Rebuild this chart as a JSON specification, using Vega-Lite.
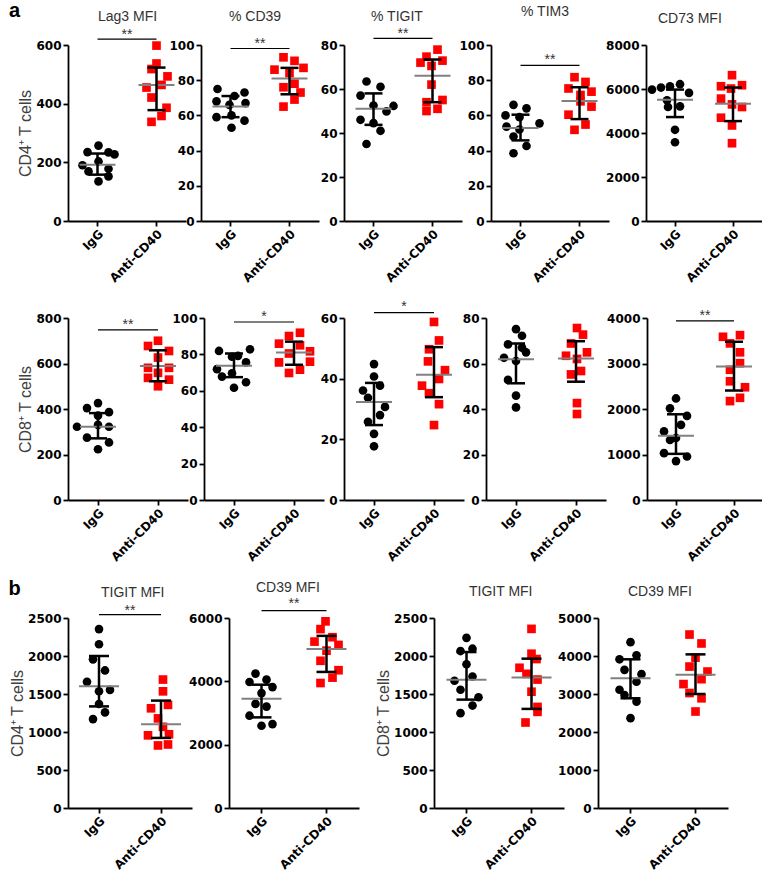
{
"$schema": "https://vega.github.io/schema/vega-lite/v6.json",
"padding": {"left": 8, "top": 1, "right": 0, "bottom": 0},
"background": "white",
"config": {
  "view": {"stroke": null},
  "font": "Liberation Sans",
  "axis": {"labelFont": "DejaVu Sans", "labelFontWeight": "bold", "labelFontSize": 12, "labelColor": "#000000", "domainColor": "#000000", "domainWidth": 1.8, "tickColor": "#000000", "tickWidth": 1.8, "tickSize": 5, "labelPadding": 2, "titleFont": "Liberation Sans", "titleFontSize": 16, "titleFontWeight": "normal", "titleColor": "#404040", "titlePadding": 2, "grid": false, "labelOverlap": false},
  "axisY": {"format": "d", "labelFlush": false, "tickCount": 20},
  "axisX": {"labelAngle": -45, "labelFontSize": 12},
  "title": {"font": "Liberation Sans", "fontSize": 14, "fontWeight": "normal", "color": "#333333", "anchor": "start", "frame": "group"}
},
"datasets": {
"pts": [
{"panel":"a1","group":"IgG","value":257,"dx":1},{"panel":"a1","group":"IgG","value":235,"dx":-10},{"panel":"a1","group":"IgG","value":234,"dx":11},{"panel":"a1","group":"IgG","value":227,"dx":17},{"panel":"a1","group":"IgG","value":190,"dx":-15},{"panel":"a1","group":"IgG","value":203,"dx":1},{"panel":"a1","group":"IgG","value":178,"dx":11},{"panel":"a1","group":"IgG","value":169,"dx":-9},{"panel":"a1","group":"IgG","value":152,"dx":11},{"panel":"a1","group":"IgG","value":135,"dx":1},
{"panel":"a1","group":"Anti-CD40","value":598,"dx":0},{"panel":"a1","group":"Anti-CD40","value":537,"dx":0},{"panel":"a1","group":"Anti-CD40","value":518,"dx":-5},{"panel":"a1","group":"Anti-CD40","value":493,"dx":11},{"panel":"a1","group":"Anti-CD40","value":455,"dx":-10},{"panel":"a1","group":"Anti-CD40","value":464,"dx":5},{"panel":"a1","group":"Anti-CD40","value":421,"dx":-5},{"panel":"a1","group":"Anti-CD40","value":386,"dx":10},{"panel":"a1","group":"Anti-CD40","value":358,"dx":5},{"panel":"a1","group":"Anti-CD40","value":338,"dx":-5},
{"panel":"a2","group":"IgG","value":75,"dx":-13},{"panel":"a2","group":"IgG","value":71,"dx":4},{"panel":"a2","group":"IgG","value":73,"dx":14},{"panel":"a2","group":"IgG","value":68,"dx":-14},{"panel":"a2","group":"IgG","value":66,"dx":-1},{"panel":"a2","group":"IgG","value":67,"dx":15},{"panel":"a2","group":"IgG","value":59,"dx":-14},{"panel":"a2","group":"IgG","value":60,"dx":1},{"panel":"a2","group":"IgG","value":57,"dx":14},{"panel":"a2","group":"IgG","value":53,"dx":1},
{"panel":"a2","group":"Anti-CD40","value":93,"dx":-6},{"panel":"a2","group":"Anti-CD40","value":91,"dx":5},{"panel":"a2","group":"Anti-CD40","value":86,"dx":-15},{"panel":"a2","group":"Anti-CD40","value":87,"dx":14},{"panel":"a2","group":"Anti-CD40","value":84,"dx":0},{"panel":"a2","group":"Anti-CD40","value":76,"dx":-6},{"panel":"a2","group":"Anti-CD40","value":78,"dx":5},{"panel":"a2","group":"Anti-CD40","value":73,"dx":11},{"panel":"a2","group":"Anti-CD40","value":69,"dx":5},{"panel":"a2","group":"Anti-CD40","value":65,"dx":-6},
{"panel":"a3","group":"IgG","value":63.4,"dx":-7},{"panel":"a3","group":"IgG","value":61,"dx":7},{"panel":"a3","group":"IgG","value":57,"dx":-13},{"panel":"a3","group":"IgG","value":52.5,"dx":0},{"panel":"a3","group":"IgG","value":52.3,"dx":20},{"panel":"a3","group":"IgG","value":49.8,"dx":13},{"panel":"a3","group":"IgG","value":46,"dx":-13},{"panel":"a3","group":"IgG","value":44.5,"dx":0},{"panel":"a3","group":"IgG","value":41,"dx":7},{"panel":"a3","group":"IgG","value":35,"dx":-7},
{"panel":"a3","group":"Anti-CD40","value":77.9,"dx":5},{"panel":"a3","group":"Anti-CD40","value":74.7,"dx":-6},{"panel":"a3","group":"Anti-CD40","value":72.9,"dx":10},{"panel":"a3","group":"Anti-CD40","value":72,"dx":-12},{"panel":"a3","group":"Anti-CD40","value":70.5,"dx":-1},{"panel":"a3","group":"Anti-CD40","value":62,"dx":-1},{"panel":"a3","group":"Anti-CD40","value":55,"dx":10},{"panel":"a3","group":"Anti-CD40","value":54,"dx":-6},{"panel":"a3","group":"Anti-CD40","value":51,"dx":5},{"panel":"a3","group":"Anti-CD40","value":50,"dx":-6},
{"panel":"a4","group":"IgG","value":66,"dx":-7},{"panel":"a4","group":"IgG","value":64,"dx":6},{"panel":"a4","group":"IgG","value":60,"dx":-15},{"panel":"a4","group":"IgG","value":59,"dx":-1},{"panel":"a4","group":"IgG","value":55.5,"dx":19},{"panel":"a4","group":"IgG","value":53.6,"dx":-14},{"panel":"a4","group":"IgG","value":52,"dx":-1},{"panel":"a4","group":"IgG","value":48,"dx":-7},{"panel":"a4","group":"IgG","value":42.6,"dx":6},{"panel":"a4","group":"IgG","value":38.5,"dx":-7},
{"panel":"a4","group":"Anti-CD40","value":81.7,"dx":-5},{"panel":"a4","group":"Anti-CD40","value":79,"dx":6},{"panel":"a4","group":"Anti-CD40","value":75.3,"dx":-11},{"panel":"a4","group":"Anti-CD40","value":73.5,"dx":12},{"panel":"a4","group":"Anti-CD40","value":71.6,"dx":1},{"panel":"a4","group":"Anti-CD40","value":68,"dx":1},{"panel":"a4","group":"Anti-CD40","value":65,"dx":12},{"panel":"a4","group":"Anti-CD40","value":60.4,"dx":-11},{"panel":"a4","group":"Anti-CD40","value":54.8,"dx":6},{"panel":"a4","group":"Anti-CD40","value":51.8,"dx":-5},
{"panel":"a5","group":"IgG","value":5974,"dx":-23},{"panel":"a5","group":"IgG","value":6066,"dx":-14},{"panel":"a5","group":"IgG","value":6126,"dx":-5},{"panel":"a5","group":"IgG","value":6218,"dx":5},{"panel":"a5","group":"IgG","value":5822,"dx":14},{"panel":"a5","group":"IgG","value":5486,"dx":-8},{"panel":"a5","group":"IgG","value":5182,"dx":-7},{"panel":"a5","group":"IgG","value":5212,"dx":5},{"panel":"a5","group":"IgG","value":4145,"dx":0},{"panel":"a5","group":"IgG","value":3581,"dx":0},
{"panel":"a5","group":"Anti-CD40","value":6629,"dx":-1},{"panel":"a5","group":"Anti-CD40","value":6172,"dx":9},{"panel":"a5","group":"Anti-CD40","value":6126,"dx":-12},{"panel":"a5","group":"Anti-CD40","value":6020,"dx":-2},{"panel":"a5","group":"Anti-CD40","value":5563,"dx":-12},{"panel":"a5","group":"Anti-CD40","value":5300,"dx":-1},{"panel":"a5","group":"Anti-CD40","value":5182,"dx":9},{"panel":"a5","group":"Anti-CD40","value":4694,"dx":-12},{"panel":"a5","group":"Anti-CD40","value":4343,"dx":-1},{"panel":"a5","group":"Anti-CD40","value":3536,"dx":-1},
{"panel":"b1","group":"IgG","value":426,"dx":0},{"panel":"b1","group":"IgG","value":404,"dx":-11},{"panel":"b1","group":"IgG","value":386,"dx":11},{"panel":"b1","group":"IgG","value":371,"dx":0},{"panel":"b1","group":"IgG","value":322,"dx":-21},{"panel":"b1","group":"IgG","value":330,"dx":0},{"panel":"b1","group":"IgG","value":322,"dx":11},{"panel":"b1","group":"IgG","value":274,"dx":-11},{"panel":"b1","group":"IgG","value":253,"dx":11},{"panel":"b1","group":"IgG","value":223,"dx":0},
{"panel":"b1","group":"Anti-CD40","value":700,"dx":0},{"panel":"b1","group":"Anti-CD40","value":677,"dx":-10},{"panel":"b1","group":"Anti-CD40","value":655,"dx":11},{"panel":"b1","group":"Anti-CD40","value":626,"dx":0},{"panel":"b1","group":"Anti-CD40","value":581,"dx":-10},{"panel":"b1","group":"Anti-CD40","value":581,"dx":11},{"panel":"b1","group":"Anti-CD40","value":559,"dx":0},{"panel":"b1","group":"Anti-CD40","value":537,"dx":-10},{"panel":"b1","group":"Anti-CD40","value":529,"dx":11},{"panel":"b1","group":"Anti-CD40","value":500,"dx":0},
{"panel":"b2","group":"IgG","value":81.9,"dx":-15},{"panel":"b2","group":"IgG","value":82.8,"dx":16},{"panel":"b2","group":"IgG","value":78.7,"dx":-2},{"panel":"b2","group":"IgG","value":79.2,"dx":4},{"panel":"b2","group":"IgG","value":75.6,"dx":12},{"panel":"b2","group":"IgG","value":71.9,"dx":-17},{"panel":"b2","group":"IgG","value":69.6,"dx":-2},{"panel":"b2","group":"IgG","value":67.8,"dx":-12},{"panel":"b2","group":"IgG","value":64.7,"dx":12},{"panel":"b2","group":"IgG","value":61.7,"dx":0},
{"panel":"b2","group":"Anti-CD40","value":91.9,"dx":6},{"panel":"b2","group":"Anti-CD40","value":90.1,"dx":-5},{"panel":"b2","group":"Anti-CD40","value":85.9,"dx":-15},{"panel":"b2","group":"Anti-CD40","value":85,"dx":6},{"panel":"b2","group":"Anti-CD40","value":81.7,"dx":16},{"panel":"b2","group":"Anti-CD40","value":80.5,"dx":-5},{"panel":"b2","group":"Anti-CD40","value":75.6,"dx":-15},{"panel":"b2","group":"Anti-CD40","value":76,"dx":16},{"panel":"b2","group":"Anti-CD40","value":71.6,"dx":6},{"panel":"b2","group":"Anti-CD40","value":69.8,"dx":-5},
{"panel":"b3","group":"IgG","value":44.8,"dx":0},{"panel":"b3","group":"IgG","value":40.7,"dx":0},{"panel":"b3","group":"IgG","value":37.7,"dx":6},{"panel":"b3","group":"IgG","value":36.1,"dx":-11},{"panel":"b3","group":"IgG","value":33.7,"dx":-6},{"panel":"b3","group":"IgG","value":30.7,"dx":11},{"panel":"b3","group":"IgG","value":28,"dx":6},{"panel":"b3","group":"IgG","value":25.8,"dx":-6},{"panel":"b3","group":"IgG","value":21.8,"dx":0},{"panel":"b3","group":"IgG","value":17.7,"dx":0},
{"panel":"b3","group":"Anti-CD40","value":58.7,"dx":0},{"panel":"b3","group":"Anti-CD40","value":52.6,"dx":5},{"panel":"b3","group":"Anti-CD40","value":49.7,"dx":-5},{"panel":"b3","group":"Anti-CD40","value":45.7,"dx":-6},{"panel":"b3","group":"Anti-CD40","value":42.8,"dx":11},{"panel":"b3","group":"Anti-CD40","value":39.9,"dx":5},{"panel":"b3","group":"Anti-CD40","value":37.7,"dx":-12},{"panel":"b3","group":"Anti-CD40","value":35.2,"dx":-5},{"panel":"b3","group":"Anti-CD40","value":31.6,"dx":5},{"panel":"b3","group":"Anti-CD40","value":24.7,"dx":0},
{"panel":"b4","group":"IgG","value":75.1,"dx":0},{"panel":"b4","group":"IgG","value":72.2,"dx":6},{"panel":"b4","group":"IgG","value":68.4,"dx":-8},{"panel":"b4","group":"IgG","value":67,"dx":6},{"panel":"b4","group":"IgG","value":64.9,"dx":10},{"panel":"b4","group":"IgG","value":62.5,"dx":-12},{"panel":"b4","group":"IgG","value":61.1,"dx":0},{"panel":"b4","group":"IgG","value":52.8,"dx":-8},{"panel":"b4","group":"IgG","value":45.9,"dx":0},{"panel":"b4","group":"IgG","value":40.7,"dx":0},
{"panel":"b4","group":"Anti-CD40","value":75.6,"dx":1},{"panel":"b4","group":"Anti-CD40","value":72.7,"dx":7},{"panel":"b4","group":"Anti-CD40","value":68.8,"dx":-5},{"panel":"b4","group":"Anti-CD40","value":64.9,"dx":11},{"panel":"b4","group":"Anti-CD40","value":63.4,"dx":-10},{"panel":"b4","group":"Anti-CD40","value":62,"dx":1},{"panel":"b4","group":"Anti-CD40","value":56.7,"dx":5},{"panel":"b4","group":"Anti-CD40","value":55.2,"dx":-5},{"panel":"b4","group":"Anti-CD40","value":42.6,"dx":1},{"panel":"b4","group":"Anti-CD40","value":37.8,"dx":1},
{"panel":"b5","group":"IgG","value":2232,"dx":0},{"panel":"b5","group":"IgG","value":2014,"dx":-6},{"panel":"b5","group":"IgG","value":1848,"dx":11},{"panel":"b5","group":"IgG","value":1652,"dx":5},{"panel":"b5","group":"IgG","value":1507,"dx":-12},{"panel":"b5","group":"IgG","value":1362,"dx":0},{"panel":"b5","group":"IgG","value":1319,"dx":-6},{"panel":"b5","group":"IgG","value":1029,"dx":-12},{"panel":"b5","group":"IgG","value":956,"dx":11},{"panel":"b5","group":"IgG","value":855,"dx":0},
{"panel":"b5","group":"Anti-CD40","value":3587,"dx":-11},{"panel":"b5","group":"Anti-CD40","value":3623,"dx":6},{"panel":"b5","group":"Anti-CD40","value":3442,"dx":-4},{"panel":"b5","group":"Anti-CD40","value":3246,"dx":6},{"panel":"b5","group":"Anti-CD40","value":3007,"dx":6},{"panel":"b5","group":"Anti-CD40","value":2862,"dx":-4},{"panel":"b5","group":"Anti-CD40","value":2609,"dx":-4},{"panel":"b5","group":"Anti-CD40","value":2478,"dx":11},{"panel":"b5","group":"Anti-CD40","value":2246,"dx":6},{"panel":"b5","group":"Anti-CD40","value":2174,"dx":-4},
{"panel":"c1","group":"IgG","value":2354,"dx":0},{"panel":"c1","group":"IgG","value":2155,"dx":0},{"panel":"c1","group":"IgG","value":1956,"dx":-6},{"panel":"c1","group":"IgG","value":1810,"dx":6},{"panel":"c1","group":"IgG","value":1660,"dx":-12},{"panel":"c1","group":"IgG","value":1536,"dx":0},{"panel":"c1","group":"IgG","value":1554,"dx":11},{"panel":"c1","group":"IgG","value":1369,"dx":0},{"panel":"c1","group":"IgG","value":1258,"dx":6},{"panel":"c1","group":"IgG","value":1170,"dx":-6},
{"panel":"c1","group":"Anti-CD40","value":1690,"dx":2},{"panel":"c1","group":"Anti-CD40","value":1535,"dx":2},{"panel":"c1","group":"Anti-CD40","value":1312,"dx":-10},{"panel":"c1","group":"Anti-CD40","value":1357,"dx":7},{"panel":"c1","group":"Anti-CD40","value":1179,"dx":-3},{"panel":"c1","group":"Anti-CD40","value":1068,"dx":2},{"panel":"c1","group":"Anti-CD40","value":956,"dx":-13},{"panel":"c1","group":"Anti-CD40","value":970,"dx":8},{"panel":"c1","group":"Anti-CD40","value":823,"dx":-3},{"panel":"c1","group":"Anti-CD40","value":836,"dx":7},
{"panel":"c2","group":"IgG","value":4245,"dx":-6},{"panel":"c2","group":"IgG","value":4053,"dx":5},{"panel":"c2","group":"IgG","value":3979,"dx":-12},{"panel":"c2","group":"IgG","value":3819,"dx":11},{"panel":"c2","group":"IgG","value":3628,"dx":0},{"panel":"c2","group":"IgG","value":3287,"dx":-6},{"panel":"c2","group":"IgG","value":3202,"dx":5},{"panel":"c2","group":"IgG","value":2915,"dx":-12},{"panel":"c2","group":"IgG","value":2596,"dx":0},{"panel":"c2","group":"IgG","value":2649,"dx":11},
{"panel":"c2","group":"Anti-CD40","value":5894,"dx":-1},{"panel":"c2","group":"Anti-CD40","value":5649,"dx":-6},{"panel":"c2","group":"Anti-CD40","value":5255,"dx":-12},{"panel":"c2","group":"Anti-CD40","value":5393,"dx":6},{"panel":"c2","group":"Anti-CD40","value":5149,"dx":12},{"panel":"c2","group":"Anti-CD40","value":4968,"dx":0},{"panel":"c2","group":"Anti-CD40","value":4649,"dx":-6},{"panel":"c2","group":"Anti-CD40","value":4351,"dx":12},{"panel":"c2","group":"Anti-CD40","value":4117,"dx":6},{"panel":"c2","group":"Anti-CD40","value":3947,"dx":-6},
{"panel":"c3","group":"IgG","value":2239,"dx":0},{"panel":"c3","group":"IgG","value":2065,"dx":-6},{"panel":"c3","group":"IgG","value":2096,"dx":6},{"panel":"c3","group":"IgG","value":1891,"dx":0},{"panel":"c3","group":"IgG","value":1730,"dx":6},{"panel":"c3","group":"IgG","value":1674,"dx":-12},{"panel":"c3","group":"IgG","value":1556,"dx":-6},{"panel":"c3","group":"IgG","value":1457,"dx":12},{"panel":"c3","group":"IgG","value":1348,"dx":6},{"panel":"c3","group":"IgG","value":1248,"dx":-6},
{"panel":"c3","group":"Anti-CD40","value":2357,"dx":0},{"panel":"c3","group":"Anti-CD40","value":2030,"dx":0},{"panel":"c3","group":"Anti-CD40","value":1960,"dx":5},{"panel":"c3","group":"Anti-CD40","value":1845,"dx":-12},{"panel":"c3","group":"Anti-CD40","value":1765,"dx":-5},{"panel":"c3","group":"Anti-CD40","value":1690,"dx":6},{"panel":"c3","group":"Anti-CD40","value":1530,"dx":0},{"panel":"c3","group":"Anti-CD40","value":1330,"dx":6},{"panel":"c3","group":"Anti-CD40","value":1265,"dx":6},{"panel":"c3","group":"Anti-CD40","value":1125,"dx":-6},
{"panel":"c4","group":"IgG","value":4365,"dx":0},{"panel":"c4","group":"IgG","value":3913,"dx":-11},{"panel":"c4","group":"IgG","value":4017,"dx":6},{"panel":"c4","group":"IgG","value":3635,"dx":-6},{"panel":"c4","group":"IgG","value":3522,"dx":11},{"panel":"c4","group":"IgG","value":3322,"dx":6},{"panel":"c4","group":"IgG","value":3113,"dx":-11},{"panel":"c4","group":"IgG","value":2974,"dx":-6},{"panel":"c4","group":"IgG","value":2800,"dx":6},{"panel":"c4","group":"IgG","value":2365,"dx":0},
{"panel":"c4","group":"Anti-CD40","value":4565,"dx":-6},{"panel":"c4","group":"Anti-CD40","value":4330,"dx":6},{"panel":"c4","group":"Anti-CD40","value":3957,"dx":0},{"panel":"c4","group":"Anti-CD40","value":3722,"dx":-6},{"panel":"c4","group":"Anti-CD40","value":3591,"dx":12},{"panel":"c4","group":"Anti-CD40","value":3391,"dx":6},{"panel":"c4","group":"Anti-CD40","value":3261,"dx":-12},{"panel":"c4","group":"Anti-CD40","value":3026,"dx":-6},{"panel":"c4","group":"Anti-CD40","value":2887,"dx":6},{"panel":"c4","group":"Anti-CD40","value":2539,"dx":0}
],
"sum": [
{"panel":"a1","group":"IgG","median":192,"q1":158,"q3":230},{"panel":"a1","group":"Anti-CD40","median":464,"q1":378,"q3":523},
{"panel":"a2","group":"IgG","median":65,"q1":59,"q3":71},{"panel":"a2","group":"Anti-CD40","median":81,"q1":72,"q3":87},
{"panel":"a3","group":"IgG","median":51,"q1":43.7,"q3":58},{"panel":"a3","group":"Anti-CD40","median":66,"q1":54,"q3":73.4},
{"panel":"a4","group":"IgG","median":52.9,"q1":45.8,"q3":60.4},{"panel":"a4","group":"Anti-CD40","median":68.2,"q1":57.9,"q3":76},
{"panel":"a5","group":"IgG","median":5517,"q1":4724,"q3":5974},{"panel":"a5","group":"Anti-CD40","median":5334,"q1":4541,"q3":6066},
{"panel":"b1","group":"IgG","median":322,"q1":271,"q3":382},{"panel":"b1","group":"Anti-CD40","median":589,"q1":522,"q3":658},
{"panel":"b2","group":"IgG","median":73.8,"q1":67.5,"q3":80.5},{"panel":"b2","group":"Anti-CD40","median":81,"q1":74.3,"q3":87},
{"panel":"b3","group":"IgG","median":32.3,"q1":24.7,"q3":38.6},{"panel":"b3","group":"Anti-CD40","median":41.3,"q1":33.9,"q3":50.4},
{"panel":"b4","group":"IgG","median":61.9,"q1":51.3,"q3":68.8},{"panel":"b4","group":"Anti-CD40","median":62.2,"q1":52,"q3":69.8},
{"panel":"b5","group":"IgG","median":1413,"q1":1014,"q3":1884},{"panel":"b5","group":"Anti-CD40","median":2935,"q1":2406,"q3":3478},
{"panel":"c1","group":"IgG","median":1603,"q1":1337,"q3":2000},{"panel":"c1","group":"Anti-CD40","median":1102,"q1":922,"q3":1413},
{"panel":"c2","group":"IgG","median":3447,"q1":2862,"q3":3894},{"panel":"c2","group":"Anti-CD40","median":5021,"q1":4297,"q3":5436},
{"panel":"c3","group":"IgG","median":1687,"q1":1426,"q3":2052},{"panel":"c3","group":"Anti-CD40","median":1717,"q1":1304,"q3":1965},
{"panel":"c4","group":"IgG","median":3417,"q1":2887,"q3":3913},{"panel":"c4","group":"Anti-CD40","median":3504,"q1":3000,"q3":4043}
],
"sig": [
{"panel":"a1","from":"IgG","to":"Anti-CD40","line":620,"star":649,"label":"**"},
{"panel":"a2","from":"IgG","to":"Anti-CD40","line":98,"star":103,"label":"**"},
{"panel":"a3","from":"IgG","to":"Anti-CD40","line":83,"star":87,"label":"**"},
{"panel":"a4","from":"IgG","to":"Anti-CD40","line":88.4,"star":94,"label":"**"},
{"panel":"b1","from":"IgG","to":"Anti-CD40","line":748,"star":785,"label":"**"},
{"panel":"b2","from":"IgG","to":"Anti-CD40","line":97.8,"star":102.7,"label":"*"},
{"panel":"b3","from":"IgG","to":"Anti-CD40","line":61.8,"star":64.9,"label":"*"},
{"panel":"b5","from":"IgG","to":"Anti-CD40","line":3935,"star":4130,"label":"**"},
{"panel":"c1","from":"IgG","to":"Anti-CD40","line":2544,"star":2647,"label":"**"},
{"panel":"c2","from":"IgG","to":"Anti-CD40","line":6230,"star":6557,"label":"**"}
]
},
"resolve": {"scale": {"x": "independent", "y": "independent", "xOffset": "independent"}},
"spacing": 16,
"vconcat": [
{
"title": {"text": "a", "anchor": "start", "frame": "bounds", "fontSize": 20, "fontWeight": "bold", "color": "#000000", "offset": -16, "dx": -9},
"bounds": "flush", "spacing": 0,
"resolve": {"scale": {"x": "independent", "y": "independent", "xOffset": "independent"}},
"hconcat": [
{"width": 133, "height": 176, "title": {"text": "Lag3 MFI", "offset": 4, "dx": 30},
 "layer": [
  {"data": {"name": "pts"}, "transform": [{"filter": "datum.panel === 'a1'"}], "mark": {"type": "point", "filled": true, "size": 75, "opacity": 1},
   "encoding": {"x": {"field": "group", "type": "nominal", "scale": {"type": "band", "domain": ["IgG", "Anti-CD40"], "range": [0, 118], "paddingInner": 0, "paddingOuter": 0}, "axis": {"title": null}},
    "xOffset": {"field": "dx", "type": "quantitative", "scale": {"domain": [-29.5, 29.5]}},
    "y": {"field": "value", "type": "quantitative", "scale": {"domain": [0, 600], "nice": false}, "axis": {"values": [0, 200, 400, 600], "tickCount": 20, "title": "CD4⁺ T cells"}},
    "shape": {"field": "group", "type": "nominal", "scale": {"domain": ["IgG", "Anti-CD40"], "range": ["circle", "square"]}, "legend": null},
    "color": {"field": "group", "type": "nominal", "scale": {"domain": ["IgG", "Anti-CD40"], "range": ["#000000", "#ff0000"]}, "legend": null}}},
  {"data": {"name": "sum"}, "transform": [{"filter": "datum.panel === 'a1'"}], "mark": {"type": "tick", "color": "#808080", "size": 36, "thickness": 2, "opacity": 1}, "encoding": {"x": {"field": "group", "type": "nominal"}, "y": {"field": "median", "type": "quantitative"}}},
  {"data": {"name": "sum"}, "transform": [{"filter": "datum.panel === 'a1'"}], "mark": {"type": "rule", "color": "#000000", "strokeWidth": 2.5}, "encoding": {"x": {"field": "group", "type": "nominal"}, "y": {"field": "q1", "type": "quantitative"}, "y2": {"field": "q3"}}},
  {"data": {"name": "sum"}, "transform": [{"filter": "datum.panel === 'a1'"}, {"fold": ["q1", "q3"], "as": ["stat", "level"]}], "mark": {"type": "tick", "color": "#000000", "size": 18, "thickness": 2.5, "opacity": 1}, "encoding": {"x": {"field": "group", "type": "nominal"}, "y": {"field": "level", "type": "quantitative"}}},
  {"data": {"name": "sig"}, "transform": [{"filter": "datum.panel === 'a1'"}], "mark": {"type": "rule", "color": "#000000", "strokeWidth": 1.2}, "encoding": {"x": {"field": "from", "type": "nominal"}, "x2": {"field": "to"}, "y": {"field": "line", "type": "quantitative"}}},
  {"data": {"name": "sig"}, "transform": [{"filter": "datum.panel === 'a1'"}], "mark": {"type": "text", "fontSize": 14, "color": "#333333", "baseline": "middle", "dy": 4}, "encoding": {"x": {"field": "from", "type": "nominal", "bandPosition": 1}, "y": {"field": "star", "type": "quantitative"}, "text": {"field": "label"}}}
 ]},
{"width": 143, "height": 176, "title": {"text": "% CD39", "offset": 13, "dx": 28},
 "layer": [
  {"data": {"name": "pts"}, "transform": [{"filter": "datum.panel === 'a2'"}], "mark": {"type": "point", "filled": true, "size": 75, "opacity": 1},
   "encoding": {"x": {"field": "group", "type": "nominal", "scale": {"type": "band", "domain": ["IgG", "Anti-CD40"], "range": [0, 118], "paddingInner": 0, "paddingOuter": 0}, "axis": {"title": null}},
    "xOffset": {"field": "dx", "type": "quantitative", "scale": {"domain": [-29.5, 29.5]}},
    "y": {"field": "value", "type": "quantitative", "scale": {"domain": [0, 100], "nice": false}, "axis": {"values": [0, 20, 40, 60, 80, 100], "tickCount": 20, "title": null}},
    "shape": {"field": "group", "type": "nominal", "scale": {"domain": ["IgG", "Anti-CD40"], "range": ["circle", "square"]}, "legend": null},
    "color": {"field": "group", "type": "nominal", "scale": {"domain": ["IgG", "Anti-CD40"], "range": ["#000000", "#ff0000"]}, "legend": null}}},
  {"data": {"name": "sum"}, "transform": [{"filter": "datum.panel === 'a2'"}], "mark": {"type": "tick", "color": "#808080", "size": 36, "thickness": 2, "opacity": 1}, "encoding": {"x": {"field": "group", "type": "nominal"}, "y": {"field": "median", "type": "quantitative"}}},
  {"data": {"name": "sum"}, "transform": [{"filter": "datum.panel === 'a2'"}], "mark": {"type": "rule", "color": "#000000", "strokeWidth": 2.5}, "encoding": {"x": {"field": "group", "type": "nominal"}, "y": {"field": "q1", "type": "quantitative"}, "y2": {"field": "q3"}}},
  {"data": {"name": "sum"}, "transform": [{"filter": "datum.panel === 'a2'"}, {"fold": ["q1", "q3"], "as": ["stat", "level"]}], "mark": {"type": "tick", "color": "#000000", "size": 18, "thickness": 2.5, "opacity": 1}, "encoding": {"x": {"field": "group", "type": "nominal"}, "y": {"field": "level", "type": "quantitative"}}},
  {"data": {"name": "sig"}, "transform": [{"filter": "datum.panel === 'a2'"}], "mark": {"type": "rule", "color": "#000000", "strokeWidth": 1.2}, "encoding": {"x": {"field": "from", "type": "nominal"}, "x2": {"field": "to"}, "y": {"field": "line", "type": "quantitative"}}},
  {"data": {"name": "sig"}, "transform": [{"filter": "datum.panel === 'a2'"}], "mark": {"type": "text", "fontSize": 14, "color": "#333333", "baseline": "middle", "dy": 4}, "encoding": {"x": {"field": "from", "type": "nominal", "bandPosition": 1}, "y": {"field": "star", "type": "quantitative"}, "text": {"field": "label"}}}
 ]},
{"width": 147, "height": 176, "title": {"text": "% TIGIT", "offset": 3, "dx": 27},
 "layer": [
  {"data": {"name": "pts"}, "transform": [{"filter": "datum.panel === 'a3'"}], "mark": {"type": "point", "filled": true, "size": 75, "opacity": 1},
   "encoding": {"x": {"field": "group", "type": "nominal", "scale": {"type": "band", "domain": ["IgG", "Anti-CD40"], "range": [0, 118], "paddingInner": 0, "paddingOuter": 0}, "axis": {"title": null}},
    "xOffset": {"field": "dx", "type": "quantitative", "scale": {"domain": [-29.5, 29.5]}},
    "y": {"field": "value", "type": "quantitative", "scale": {"domain": [0, 80], "nice": false}, "axis": {"values": [0, 20, 40, 60, 80], "tickCount": 20, "title": null}},
    "shape": {"field": "group", "type": "nominal", "scale": {"domain": ["IgG", "Anti-CD40"], "range": ["circle", "square"]}, "legend": null},
    "color": {"field": "group", "type": "nominal", "scale": {"domain": ["IgG", "Anti-CD40"], "range": ["#000000", "#ff0000"]}, "legend": null}}},
  {"data": {"name": "sum"}, "transform": [{"filter": "datum.panel === 'a3'"}], "mark": {"type": "tick", "color": "#808080", "size": 36, "thickness": 2, "opacity": 1}, "encoding": {"x": {"field": "group", "type": "nominal"}, "y": {"field": "median", "type": "quantitative"}}},
  {"data": {"name": "sum"}, "transform": [{"filter": "datum.panel === 'a3'"}], "mark": {"type": "rule", "color": "#000000", "strokeWidth": 2.5}, "encoding": {"x": {"field": "group", "type": "nominal"}, "y": {"field": "q1", "type": "quantitative"}, "y2": {"field": "q3"}}},
  {"data": {"name": "sum"}, "transform": [{"filter": "datum.panel === 'a3'"}, {"fold": ["q1", "q3"], "as": ["stat", "level"]}], "mark": {"type": "tick", "color": "#000000", "size": 18, "thickness": 2.5, "opacity": 1}, "encoding": {"x": {"field": "group", "type": "nominal"}, "y": {"field": "level", "type": "quantitative"}}},
  {"data": {"name": "sig"}, "transform": [{"filter": "datum.panel === 'a3'"}], "mark": {"type": "rule", "color": "#000000", "strokeWidth": 1.2}, "encoding": {"x": {"field": "from", "type": "nominal"}, "x2": {"field": "to"}, "y": {"field": "line", "type": "quantitative"}}},
  {"data": {"name": "sig"}, "transform": [{"filter": "datum.panel === 'a3'"}], "mark": {"type": "text", "fontSize": 14, "color": "#333333", "baseline": "middle", "dy": 4}, "encoding": {"x": {"field": "from", "type": "nominal", "bandPosition": 1}, "y": {"field": "star", "type": "quantitative"}, "text": {"field": "label"}}}
 ]},
{"width": 155, "height": 176, "title": {"text": "% TIM3", "offset": 20, "dx": 30},
 "layer": [
  {"data": {"name": "pts"}, "transform": [{"filter": "datum.panel === 'a4'"}], "mark": {"type": "point", "filled": true, "size": 75, "opacity": 1},
   "encoding": {"x": {"field": "group", "type": "nominal", "scale": {"type": "band", "domain": ["IgG", "Anti-CD40"], "range": [0, 118], "paddingInner": 0, "paddingOuter": 0}, "axis": {"title": null}},
    "xOffset": {"field": "dx", "type": "quantitative", "scale": {"domain": [-29.5, 29.5]}},
    "y": {"field": "value", "type": "quantitative", "scale": {"domain": [0, 100], "nice": false}, "axis": {"values": [0, 20, 40, 60, 80, 100], "tickCount": 20, "title": null}},
    "shape": {"field": "group", "type": "nominal", "scale": {"domain": ["IgG", "Anti-CD40"], "range": ["circle", "square"]}, "legend": null},
    "color": {"field": "group", "type": "nominal", "scale": {"domain": ["IgG", "Anti-CD40"], "range": ["#000000", "#ff0000"]}, "legend": null}}},
  {"data": {"name": "sum"}, "transform": [{"filter": "datum.panel === 'a4'"}], "mark": {"type": "tick", "color": "#808080", "size": 36, "thickness": 2, "opacity": 1}, "encoding": {"x": {"field": "group", "type": "nominal"}, "y": {"field": "median", "type": "quantitative"}}},
  {"data": {"name": "sum"}, "transform": [{"filter": "datum.panel === 'a4'"}], "mark": {"type": "rule", "color": "#000000", "strokeWidth": 2.5}, "encoding": {"x": {"field": "group", "type": "nominal"}, "y": {"field": "q1", "type": "quantitative"}, "y2": {"field": "q3"}}},
  {"data": {"name": "sum"}, "transform": [{"filter": "datum.panel === 'a4'"}, {"fold": ["q1", "q3"], "as": ["stat", "level"]}], "mark": {"type": "tick", "color": "#000000", "size": 18, "thickness": 2.5, "opacity": 1}, "encoding": {"x": {"field": "group", "type": "nominal"}, "y": {"field": "level", "type": "quantitative"}}},
  {"data": {"name": "sig"}, "transform": [{"filter": "datum.panel === 'a4'"}], "mark": {"type": "rule", "color": "#000000", "strokeWidth": 1.2}, "encoding": {"x": {"field": "from", "type": "nominal"}, "x2": {"field": "to"}, "y": {"field": "line", "type": "quantitative"}}},
  {"data": {"name": "sig"}, "transform": [{"filter": "datum.panel === 'a4'"}], "mark": {"type": "text", "fontSize": 14, "color": "#333333", "baseline": "middle", "dy": 4}, "encoding": {"x": {"field": "from", "type": "nominal", "bandPosition": 1}, "y": {"field": "star", "type": "quantitative"}, "text": {"field": "label"}}}
 ]},
{"width": 116, "height": 176, "title": {"text": "CD73 MFI", "offset": 13, "dx": 12},
 "layer": [
  {"data": {"name": "pts"}, "transform": [{"filter": "datum.panel === 'a5'"}], "mark": {"type": "point", "filled": true, "size": 75, "opacity": 1},
   "encoding": {"x": {"field": "group", "type": "nominal", "scale": {"type": "band", "domain": ["IgG", "Anti-CD40"], "range": [0, 116], "paddingInner": 0, "paddingOuter": 0}, "axis": {"title": null}},
    "xOffset": {"field": "dx", "type": "quantitative", "scale": {"domain": [-29, 29]}},
    "y": {"field": "value", "type": "quantitative", "scale": {"domain": [0, 8000], "nice": false}, "axis": {"values": [0, 2000, 4000, 6000, 8000], "tickCount": 20, "title": null}},
    "shape": {"field": "group", "type": "nominal", "scale": {"domain": ["IgG", "Anti-CD40"], "range": ["circle", "square"]}, "legend": null},
    "color": {"field": "group", "type": "nominal", "scale": {"domain": ["IgG", "Anti-CD40"], "range": ["#000000", "#ff0000"]}, "legend": null}}},
  {"data": {"name": "sum"}, "transform": [{"filter": "datum.panel === 'a5'"}], "mark": {"type": "tick", "color": "#808080", "size": 36, "thickness": 2, "opacity": 1}, "encoding": {"x": {"field": "group", "type": "nominal"}, "y": {"field": "median", "type": "quantitative"}}},
  {"data": {"name": "sum"}, "transform": [{"filter": "datum.panel === 'a5'"}], "mark": {"type": "rule", "color": "#000000", "strokeWidth": 2.5}, "encoding": {"x": {"field": "group", "type": "nominal"}, "y": {"field": "q1", "type": "quantitative"}, "y2": {"field": "q3"}}},
  {"data": {"name": "sum"}, "transform": [{"filter": "datum.panel === 'a5'"}, {"fold": ["q1", "q3"], "as": ["stat", "level"]}], "mark": {"type": "tick", "color": "#000000", "size": 18, "thickness": 2.5, "opacity": 1}, "encoding": {"x": {"field": "group", "type": "nominal"}, "y": {"field": "level", "type": "quantitative"}}}
 ]}
]
},
{
"bounds": "flush", "spacing": 0,
"resolve": {"scale": {"x": "independent", "y": "independent", "xOffset": "independent"}},
"hconcat": [
{"width": 136, "height": 182,
 "layer": [
  {"data": {"name": "pts"}, "transform": [{"filter": "datum.panel === 'b1'"}], "mark": {"type": "point", "filled": true, "size": 75, "opacity": 1},
   "encoding": {"x": {"field": "group", "type": "nominal", "scale": {"type": "band", "domain": ["IgG", "Anti-CD40"], "range": [0, 120], "paddingInner": 0, "paddingOuter": 0}, "axis": {"title": null}},
    "xOffset": {"field": "dx", "type": "quantitative", "scale": {"domain": [-30, 30]}},
    "y": {"field": "value", "type": "quantitative", "scale": {"domain": [0, 800], "nice": false}, "axis": {"values": [0, 200, 400, 600, 800], "tickCount": 20, "title": "CD8⁺ T cells"}},
    "shape": {"field": "group", "type": "nominal", "scale": {"domain": ["IgG", "Anti-CD40"], "range": ["circle", "square"]}, "legend": null},
    "color": {"field": "group", "type": "nominal", "scale": {"domain": ["IgG", "Anti-CD40"], "range": ["#000000", "#ff0000"]}, "legend": null}}},
  {"data": {"name": "sum"}, "transform": [{"filter": "datum.panel === 'b1'"}], "mark": {"type": "tick", "color": "#808080", "size": 36, "thickness": 2, "opacity": 1}, "encoding": {"x": {"field": "group", "type": "nominal"}, "y": {"field": "median", "type": "quantitative"}}},
  {"data": {"name": "sum"}, "transform": [{"filter": "datum.panel === 'b1'"}], "mark": {"type": "rule", "color": "#000000", "strokeWidth": 2.5}, "encoding": {"x": {"field": "group", "type": "nominal"}, "y": {"field": "q1", "type": "quantitative"}, "y2": {"field": "q3"}}},
  {"data": {"name": "sum"}, "transform": [{"filter": "datum.panel === 'b1'"}, {"fold": ["q1", "q3"], "as": ["stat", "level"]}], "mark": {"type": "tick", "color": "#000000", "size": 18, "thickness": 2.5, "opacity": 1}, "encoding": {"x": {"field": "group", "type": "nominal"}, "y": {"field": "level", "type": "quantitative"}}},
  {"data": {"name": "sig"}, "transform": [{"filter": "datum.panel === 'b1'"}], "mark": {"type": "rule", "color": "#000000", "strokeWidth": 1.2}, "encoding": {"x": {"field": "from", "type": "nominal"}, "x2": {"field": "to"}, "y": {"field": "line", "type": "quantitative"}}},
  {"data": {"name": "sig"}, "transform": [{"filter": "datum.panel === 'b1'"}], "mark": {"type": "text", "fontSize": 14, "color": "#333333", "baseline": "middle", "dy": 4}, "encoding": {"x": {"field": "from", "type": "nominal", "bandPosition": 1}, "y": {"field": "star", "type": "quantitative"}, "text": {"field": "label"}}}
 ]},
{"width": 140, "height": 182,
 "layer": [
  {"data": {"name": "pts"}, "transform": [{"filter": "datum.panel === 'b2'"}], "mark": {"type": "point", "filled": true, "size": 75, "opacity": 1},
   "encoding": {"x": {"field": "group", "type": "nominal", "scale": {"type": "band", "domain": ["IgG", "Anti-CD40"], "range": [0, 120], "paddingInner": 0, "paddingOuter": 0}, "axis": {"title": null}},
    "xOffset": {"field": "dx", "type": "quantitative", "scale": {"domain": [-30, 30]}},
    "y": {"field": "value", "type": "quantitative", "scale": {"domain": [0, 100], "nice": false}, "axis": {"values": [0, 20, 40, 60, 80, 100], "tickCount": 20, "title": null}},
    "shape": {"field": "group", "type": "nominal", "scale": {"domain": ["IgG", "Anti-CD40"], "range": ["circle", "square"]}, "legend": null},
    "color": {"field": "group", "type": "nominal", "scale": {"domain": ["IgG", "Anti-CD40"], "range": ["#000000", "#ff0000"]}, "legend": null}}},
  {"data": {"name": "sum"}, "transform": [{"filter": "datum.panel === 'b2'"}], "mark": {"type": "tick", "color": "#808080", "size": 36, "thickness": 2, "opacity": 1}, "encoding": {"x": {"field": "group", "type": "nominal"}, "y": {"field": "median", "type": "quantitative"}}},
  {"data": {"name": "sum"}, "transform": [{"filter": "datum.panel === 'b2'"}], "mark": {"type": "rule", "color": "#000000", "strokeWidth": 2.5}, "encoding": {"x": {"field": "group", "type": "nominal"}, "y": {"field": "q1", "type": "quantitative"}, "y2": {"field": "q3"}}},
  {"data": {"name": "sum"}, "transform": [{"filter": "datum.panel === 'b2'"}, {"fold": ["q1", "q3"], "as": ["stat", "level"]}], "mark": {"type": "tick", "color": "#000000", "size": 18, "thickness": 2.5, "opacity": 1}, "encoding": {"x": {"field": "group", "type": "nominal"}, "y": {"field": "level", "type": "quantitative"}}},
  {"data": {"name": "sig"}, "transform": [{"filter": "datum.panel === 'b2'"}], "mark": {"type": "rule", "color": "#000000", "strokeWidth": 1.2}, "encoding": {"x": {"field": "from", "type": "nominal"}, "x2": {"field": "to"}, "y": {"field": "line", "type": "quantitative"}}},
  {"data": {"name": "sig"}, "transform": [{"filter": "datum.panel === 'b2'"}], "mark": {"type": "text", "fontSize": 14, "color": "#333333", "baseline": "middle", "dy": 4}, "encoding": {"x": {"field": "from", "type": "nominal", "bandPosition": 1}, "y": {"field": "star", "type": "quantitative"}, "text": {"field": "label"}}}
 ]},
{"width": 142, "height": 182,
 "layer": [
  {"data": {"name": "pts"}, "transform": [{"filter": "datum.panel === 'b3'"}], "mark": {"type": "point", "filled": true, "size": 75, "opacity": 1},
   "encoding": {"x": {"field": "group", "type": "nominal", "scale": {"type": "band", "domain": ["IgG", "Anti-CD40"], "range": [0, 120], "paddingInner": 0, "paddingOuter": 0}, "axis": {"title": null}},
    "xOffset": {"field": "dx", "type": "quantitative", "scale": {"domain": [-30, 30]}},
    "y": {"field": "value", "type": "quantitative", "scale": {"domain": [0, 60], "nice": false}, "axis": {"values": [0, 20, 40, 60], "tickCount": 20, "title": null}},
    "shape": {"field": "group", "type": "nominal", "scale": {"domain": ["IgG", "Anti-CD40"], "range": ["circle", "square"]}, "legend": null},
    "color": {"field": "group", "type": "nominal", "scale": {"domain": ["IgG", "Anti-CD40"], "range": ["#000000", "#ff0000"]}, "legend": null}}},
  {"data": {"name": "sum"}, "transform": [{"filter": "datum.panel === 'b3'"}], "mark": {"type": "tick", "color": "#808080", "size": 36, "thickness": 2, "opacity": 1}, "encoding": {"x": {"field": "group", "type": "nominal"}, "y": {"field": "median", "type": "quantitative"}}},
  {"data": {"name": "sum"}, "transform": [{"filter": "datum.panel === 'b3'"}], "mark": {"type": "rule", "color": "#000000", "strokeWidth": 2.5}, "encoding": {"x": {"field": "group", "type": "nominal"}, "y": {"field": "q1", "type": "quantitative"}, "y2": {"field": "q3"}}},
  {"data": {"name": "sum"}, "transform": [{"filter": "datum.panel === 'b3'"}, {"fold": ["q1", "q3"], "as": ["stat", "level"]}], "mark": {"type": "tick", "color": "#000000", "size": 18, "thickness": 2.5, "opacity": 1}, "encoding": {"x": {"field": "group", "type": "nominal"}, "y": {"field": "level", "type": "quantitative"}}},
  {"data": {"name": "sig"}, "transform": [{"filter": "datum.panel === 'b3'"}], "mark": {"type": "rule", "color": "#000000", "strokeWidth": 1.2}, "encoding": {"x": {"field": "from", "type": "nominal"}, "x2": {"field": "to"}, "y": {"field": "line", "type": "quantitative"}}},
  {"data": {"name": "sig"}, "transform": [{"filter": "datum.panel === 'b3'"}], "mark": {"type": "text", "fontSize": 14, "color": "#333333", "baseline": "middle", "dy": 4}, "encoding": {"x": {"field": "from", "type": "nominal", "bandPosition": 1}, "y": {"field": "star", "type": "quantitative"}, "text": {"field": "label"}}}
 ]},
{"width": 161, "height": 182,
 "layer": [
  {"data": {"name": "pts"}, "transform": [{"filter": "datum.panel === 'b4'"}], "mark": {"type": "point", "filled": true, "size": 75, "opacity": 1},
   "encoding": {"x": {"field": "group", "type": "nominal", "scale": {"type": "band", "domain": ["IgG", "Anti-CD40"], "range": [0, 120], "paddingInner": 0, "paddingOuter": 0}, "axis": {"title": null}},
    "xOffset": {"field": "dx", "type": "quantitative", "scale": {"domain": [-30, 30]}},
    "y": {"field": "value", "type": "quantitative", "scale": {"domain": [0, 80], "nice": false}, "axis": {"values": [0, 20, 40, 60, 80], "tickCount": 20, "title": null}},
    "shape": {"field": "group", "type": "nominal", "scale": {"domain": ["IgG", "Anti-CD40"], "range": ["circle", "square"]}, "legend": null},
    "color": {"field": "group", "type": "nominal", "scale": {"domain": ["IgG", "Anti-CD40"], "range": ["#000000", "#ff0000"]}, "legend": null}}},
  {"data": {"name": "sum"}, "transform": [{"filter": "datum.panel === 'b4'"}], "mark": {"type": "tick", "color": "#808080", "size": 36, "thickness": 2, "opacity": 1}, "encoding": {"x": {"field": "group", "type": "nominal"}, "y": {"field": "median", "type": "quantitative"}}},
  {"data": {"name": "sum"}, "transform": [{"filter": "datum.panel === 'b4'"}], "mark": {"type": "rule", "color": "#000000", "strokeWidth": 2.5}, "encoding": {"x": {"field": "group", "type": "nominal"}, "y": {"field": "q1", "type": "quantitative"}, "y2": {"field": "q3"}}},
  {"data": {"name": "sum"}, "transform": [{"filter": "datum.panel === 'b4'"}, {"fold": ["q1", "q3"], "as": ["stat", "level"]}], "mark": {"type": "tick", "color": "#000000", "size": 18, "thickness": 2.5, "opacity": 1}, "encoding": {"x": {"field": "group", "type": "nominal"}, "y": {"field": "level", "type": "quantitative"}}}
 ]},
{"width": 116, "height": 182,
 "layer": [
  {"data": {"name": "pts"}, "transform": [{"filter": "datum.panel === 'b5'"}], "mark": {"type": "point", "filled": true, "size": 75, "opacity": 1},
   "encoding": {"x": {"field": "group", "type": "nominal", "scale": {"type": "band", "domain": ["IgG", "Anti-CD40"], "range": [0, 116], "paddingInner": 0, "paddingOuter": 0}, "axis": {"title": null}},
    "xOffset": {"field": "dx", "type": "quantitative", "scale": {"domain": [-29, 29]}},
    "y": {"field": "value", "type": "quantitative", "scale": {"domain": [0, 4000], "nice": false}, "axis": {"values": [0, 1000, 2000, 3000, 4000], "tickCount": 20, "title": null}},
    "shape": {"field": "group", "type": "nominal", "scale": {"domain": ["IgG", "Anti-CD40"], "range": ["circle", "square"]}, "legend": null},
    "color": {"field": "group", "type": "nominal", "scale": {"domain": ["IgG", "Anti-CD40"], "range": ["#000000", "#ff0000"]}, "legend": null}}},
  {"data": {"name": "sum"}, "transform": [{"filter": "datum.panel === 'b5'"}], "mark": {"type": "tick", "color": "#808080", "size": 36, "thickness": 2, "opacity": 1}, "encoding": {"x": {"field": "group", "type": "nominal"}, "y": {"field": "median", "type": "quantitative"}}},
  {"data": {"name": "sum"}, "transform": [{"filter": "datum.panel === 'b5'"}], "mark": {"type": "rule", "color": "#000000", "strokeWidth": 2.5}, "encoding": {"x": {"field": "group", "type": "nominal"}, "y": {"field": "q1", "type": "quantitative"}, "y2": {"field": "q3"}}},
  {"data": {"name": "sum"}, "transform": [{"filter": "datum.panel === 'b5'"}, {"fold": ["q1", "q3"], "as": ["stat", "level"]}], "mark": {"type": "tick", "color": "#000000", "size": 18, "thickness": 2.5, "opacity": 1}, "encoding": {"x": {"field": "group", "type": "nominal"}, "y": {"field": "level", "type": "quantitative"}}},
  {"data": {"name": "sig"}, "transform": [{"filter": "datum.panel === 'b5'"}], "mark": {"type": "rule", "color": "#000000", "strokeWidth": 1.2}, "encoding": {"x": {"field": "from", "type": "nominal"}, "x2": {"field": "to"}, "y": {"field": "line", "type": "quantitative"}}},
  {"data": {"name": "sig"}, "transform": [{"filter": "datum.panel === 'b5'"}], "mark": {"type": "text", "fontSize": 14, "color": "#333333", "baseline": "middle", "dy": 4}, "encoding": {"x": {"field": "from", "type": "nominal", "bandPosition": 1}, "y": {"field": "star", "type": "quantitative"}, "text": {"field": "label"}}}
 ]}
]
},
{
"title": {"text": "b", "anchor": "start", "frame": "bounds", "fontSize": 20, "fontWeight": "bold", "color": "#000000", "offset": -18, "dx": -1},
"bounds": "flush", "spacing": 0,
"resolve": {"scale": {"x": "independent", "y": "independent", "xOffset": "independent"}},
"hconcat": [
{"width": 161, "height": 190, "title": {"text": "TIGIT MFI", "offset": 4, "dx": 33},
 "layer": [
  {"data": {"name": "pts"}, "transform": [{"filter": "datum.panel === 'c1'"}], "mark": {"type": "point", "filled": true, "size": 75, "opacity": 1},
   "encoding": {"x": {"field": "group", "type": "nominal", "scale": {"type": "band", "domain": ["IgG", "Anti-CD40"], "range": [0, 124], "paddingInner": 0, "paddingOuter": 0}, "axis": {"title": null}},
    "xOffset": {"field": "dx", "type": "quantitative", "scale": {"domain": [-31, 31]}},
    "y": {"field": "value", "type": "quantitative", "scale": {"domain": [0, 2500], "nice": false}, "axis": {"values": [0, 500, 1000, 1500, 2000, 2500], "tickCount": 20, "title": "CD4⁺ T cells"}},
    "shape": {"field": "group", "type": "nominal", "scale": {"domain": ["IgG", "Anti-CD40"], "range": ["circle", "square"]}, "legend": null},
    "color": {"field": "group", "type": "nominal", "scale": {"domain": ["IgG", "Anti-CD40"], "range": ["#000000", "#ff0000"]}, "legend": null}}},
  {"data": {"name": "sum"}, "transform": [{"filter": "datum.panel === 'c1'"}], "mark": {"type": "tick", "color": "#808080", "size": 40, "thickness": 2, "opacity": 1}, "encoding": {"x": {"field": "group", "type": "nominal"}, "y": {"field": "median", "type": "quantitative"}}},
  {"data": {"name": "sum"}, "transform": [{"filter": "datum.panel === 'c1'"}], "mark": {"type": "rule", "color": "#000000", "strokeWidth": 2.5}, "encoding": {"x": {"field": "group", "type": "nominal"}, "y": {"field": "q1", "type": "quantitative"}, "y2": {"field": "q3"}}},
  {"data": {"name": "sum"}, "transform": [{"filter": "datum.panel === 'c1'"}, {"fold": ["q1", "q3"], "as": ["stat", "level"]}], "mark": {"type": "tick", "color": "#000000", "size": 20, "thickness": 2.5, "opacity": 1}, "encoding": {"x": {"field": "group", "type": "nominal"}, "y": {"field": "level", "type": "quantitative"}}},
  {"data": {"name": "sig"}, "transform": [{"filter": "datum.panel === 'c1'"}], "mark": {"type": "rule", "color": "#000000", "strokeWidth": 1.2}, "encoding": {"x": {"field": "from", "type": "nominal"}, "x2": {"field": "to"}, "y": {"field": "line", "type": "quantitative"}}},
  {"data": {"name": "sig"}, "transform": [{"filter": "datum.panel === 'c1'"}], "mark": {"type": "text", "fontSize": 14, "color": "#333333", "baseline": "middle", "dy": 4}, "encoding": {"x": {"field": "from", "type": "nominal", "bandPosition": 1}, "y": {"field": "star", "type": "quantitative"}, "text": {"field": "label"}}}
 ]},
{"width": 205, "height": 190, "title": {"text": "CD39 MFI", "offset": 2, "dx": 27},
 "layer": [
  {"data": {"name": "pts"}, "transform": [{"filter": "datum.panel === 'c2'"}], "mark": {"type": "point", "filled": true, "size": 75, "opacity": 1},
   "encoding": {"x": {"field": "group", "type": "nominal", "scale": {"type": "band", "domain": ["IgG", "Anti-CD40"], "range": [0, 130], "paddingInner": 0, "paddingOuter": 0}, "axis": {"title": null}},
    "xOffset": {"field": "dx", "type": "quantitative", "scale": {"domain": [-32.5, 32.5]}},
    "y": {"field": "value", "type": "quantitative", "scale": {"domain": [0, 6000], "nice": false}, "axis": {"values": [0, 2000, 4000, 6000], "tickCount": 20, "title": null}},
    "shape": {"field": "group", "type": "nominal", "scale": {"domain": ["IgG", "Anti-CD40"], "range": ["circle", "square"]}, "legend": null},
    "color": {"field": "group", "type": "nominal", "scale": {"domain": ["IgG", "Anti-CD40"], "range": ["#000000", "#ff0000"]}, "legend": null}}},
  {"data": {"name": "sum"}, "transform": [{"filter": "datum.panel === 'c2'"}], "mark": {"type": "tick", "color": "#808080", "size": 40, "thickness": 2, "opacity": 1}, "encoding": {"x": {"field": "group", "type": "nominal"}, "y": {"field": "median", "type": "quantitative"}}},
  {"data": {"name": "sum"}, "transform": [{"filter": "datum.panel === 'c2'"}], "mark": {"type": "rule", "color": "#000000", "strokeWidth": 2.5}, "encoding": {"x": {"field": "group", "type": "nominal"}, "y": {"field": "q1", "type": "quantitative"}, "y2": {"field": "q3"}}},
  {"data": {"name": "sum"}, "transform": [{"filter": "datum.panel === 'c2'"}, {"fold": ["q1", "q3"], "as": ["stat", "level"]}], "mark": {"type": "tick", "color": "#000000", "size": 20, "thickness": 2.5, "opacity": 1}, "encoding": {"x": {"field": "group", "type": "nominal"}, "y": {"field": "level", "type": "quantitative"}}},
  {"data": {"name": "sig"}, "transform": [{"filter": "datum.panel === 'c2'"}], "mark": {"type": "rule", "color": "#000000", "strokeWidth": 1.2}, "encoding": {"x": {"field": "from", "type": "nominal"}, "x2": {"field": "to"}, "y": {"field": "line", "type": "quantitative"}}},
  {"data": {"name": "sig"}, "transform": [{"filter": "datum.panel === 'c2'"}], "mark": {"type": "text", "fontSize": 14, "color": "#333333", "baseline": "middle", "dy": 4}, "encoding": {"x": {"field": "from", "type": "nominal", "bandPosition": 1}, "y": {"field": "star", "type": "quantitative"}, "text": {"field": "label"}}}
 ]},
{"width": 164, "height": 190, "title": {"text": "TIGIT MFI", "offset": 13, "dx": 35},
 "layer": [
  {"data": {"name": "pts"}, "transform": [{"filter": "datum.panel === 'c3'"}], "mark": {"type": "point", "filled": true, "size": 75, "opacity": 1},
   "encoding": {"x": {"field": "group", "type": "nominal", "scale": {"type": "band", "domain": ["IgG", "Anti-CD40"], "range": [0, 130], "paddingInner": 0, "paddingOuter": 0}, "axis": {"title": null}},
    "xOffset": {"field": "dx", "type": "quantitative", "scale": {"domain": [-32.5, 32.5]}},
    "y": {"field": "value", "type": "quantitative", "scale": {"domain": [0, 2500], "nice": false}, "axis": {"values": [0, 500, 1000, 1500, 2000, 2500], "tickCount": 20, "title": "CD8⁺ T cells"}},
    "shape": {"field": "group", "type": "nominal", "scale": {"domain": ["IgG", "Anti-CD40"], "range": ["circle", "square"]}, "legend": null},
    "color": {"field": "group", "type": "nominal", "scale": {"domain": ["IgG", "Anti-CD40"], "range": ["#000000", "#ff0000"]}, "legend": null}}},
  {"data": {"name": "sum"}, "transform": [{"filter": "datum.panel === 'c3'"}], "mark": {"type": "tick", "color": "#808080", "size": 40, "thickness": 2, "opacity": 1}, "encoding": {"x": {"field": "group", "type": "nominal"}, "y": {"field": "median", "type": "quantitative"}}},
  {"data": {"name": "sum"}, "transform": [{"filter": "datum.panel === 'c3'"}], "mark": {"type": "rule", "color": "#000000", "strokeWidth": 2.5}, "encoding": {"x": {"field": "group", "type": "nominal"}, "y": {"field": "q1", "type": "quantitative"}, "y2": {"field": "q3"}}},
  {"data": {"name": "sum"}, "transform": [{"filter": "datum.panel === 'c3'"}, {"fold": ["q1", "q3"], "as": ["stat", "level"]}], "mark": {"type": "tick", "color": "#000000", "size": 20, "thickness": 2.5, "opacity": 1}, "encoding": {"x": {"field": "group", "type": "nominal"}, "y": {"field": "level", "type": "quantitative"}}}
 ]},
{"width": 130, "height": 190, "title": {"text": "CD39 MFI", "offset": 13, "dx": 30},
 "layer": [
  {"data": {"name": "pts"}, "transform": [{"filter": "datum.panel === 'c4'"}], "mark": {"type": "point", "filled": true, "size": 75, "opacity": 1},
   "encoding": {"x": {"field": "group", "type": "nominal", "scale": {"type": "band", "domain": ["IgG", "Anti-CD40"], "range": [0, 130], "paddingInner": 0, "paddingOuter": 0}, "axis": {"title": null}},
    "xOffset": {"field": "dx", "type": "quantitative", "scale": {"domain": [-32.5, 32.5]}},
    "y": {"field": "value", "type": "quantitative", "scale": {"domain": [0, 5000], "nice": false}, "axis": {"values": [0, 1000, 2000, 3000, 4000, 5000], "tickCount": 20, "title": null}},
    "shape": {"field": "group", "type": "nominal", "scale": {"domain": ["IgG", "Anti-CD40"], "range": ["circle", "square"]}, "legend": null},
    "color": {"field": "group", "type": "nominal", "scale": {"domain": ["IgG", "Anti-CD40"], "range": ["#000000", "#ff0000"]}, "legend": null}}},
  {"data": {"name": "sum"}, "transform": [{"filter": "datum.panel === 'c4'"}], "mark": {"type": "tick", "color": "#808080", "size": 40, "thickness": 2, "opacity": 1}, "encoding": {"x": {"field": "group", "type": "nominal"}, "y": {"field": "median", "type": "quantitative"}}},
  {"data": {"name": "sum"}, "transform": [{"filter": "datum.panel === 'c4'"}], "mark": {"type": "rule", "color": "#000000", "strokeWidth": 2.5}, "encoding": {"x": {"field": "group", "type": "nominal"}, "y": {"field": "q1", "type": "quantitative"}, "y2": {"field": "q3"}}},
  {"data": {"name": "sum"}, "transform": [{"filter": "datum.panel === 'c4'"}, {"fold": ["q1", "q3"], "as": ["stat", "level"]}], "mark": {"type": "tick", "color": "#000000", "size": 20, "thickness": 2.5, "opacity": 1}, "encoding": {"x": {"field": "group", "type": "nominal"}, "y": {"field": "level", "type": "quantitative"}}}
 ]}
]
}
]
}
